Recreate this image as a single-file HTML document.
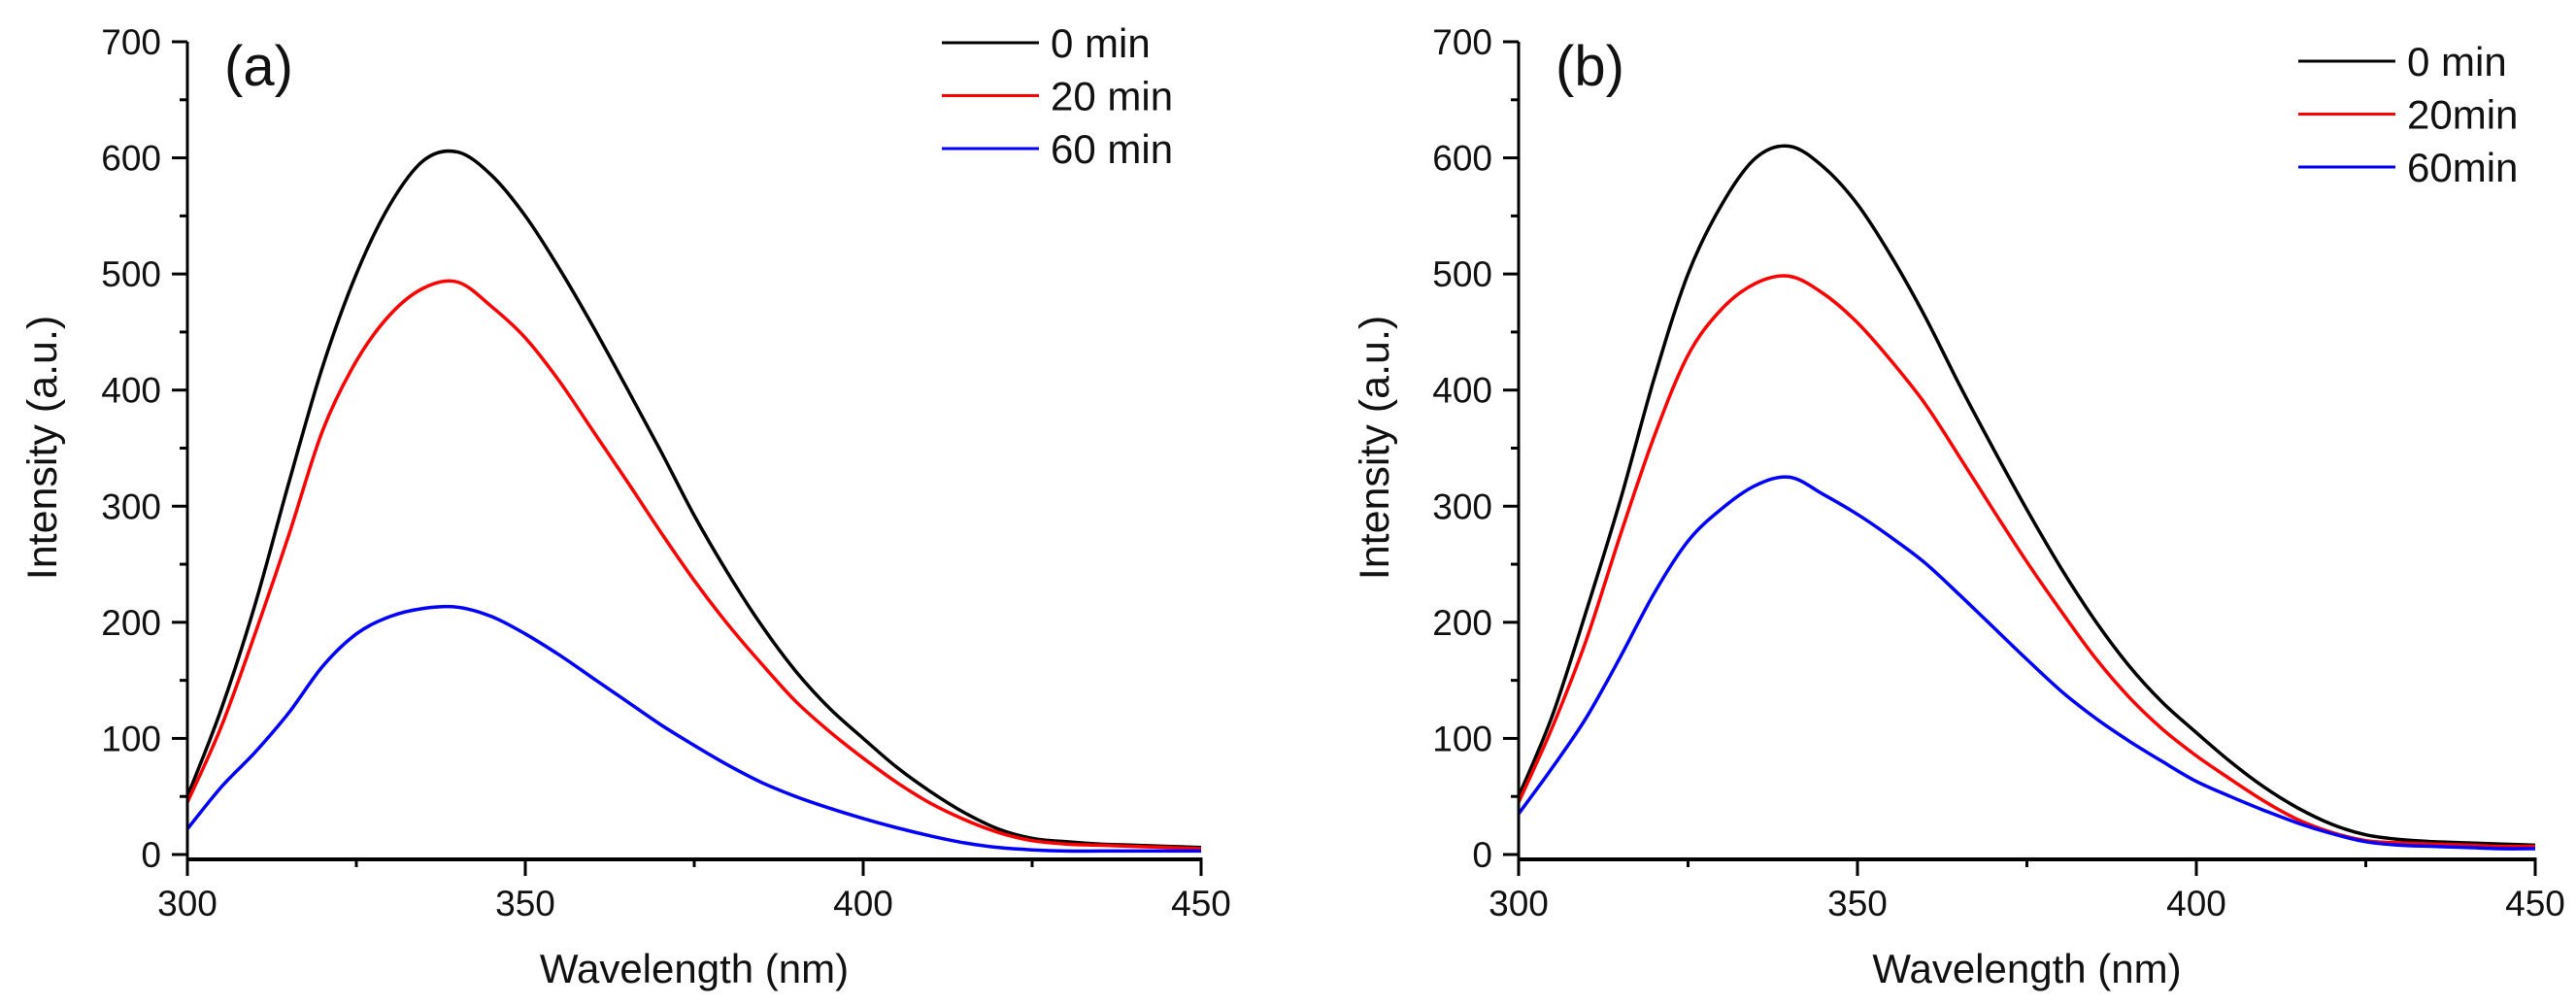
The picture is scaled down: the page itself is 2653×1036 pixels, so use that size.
<!DOCTYPE html>
<html><head><meta charset="utf-8">
<style>
html,body{margin:0;padding:0;background:#fff;}
svg{display:block;font-family:"Liberation Sans",Arial,sans-serif;}
</style></head>
<body>
<svg id="chart" width="2653" height="1036" viewBox="0 0 2653 1036" xmlns="http://www.w3.org/2000/svg"></svg>
<script>
const wavelengths = [300,305,310,315,320,325,330,335,340,345,350,355,360,365,370,375,380,385,390,395,400,405,410,415,420,425,430,435,440,445,450];
const aBlack = [50,125,215,320,420,500,560,598,605,585,550,505,455,402,348,292,242,197,158,126,100,75,54,36,22,14,11,9,8,7,6];
const aRed   = [45,110,190,275,365,425,465,488,493,472,445,408,365,322,278,236,198,164,132,106,83,62,44,30,19,12,9,8,7,6,5];
const aBlue  = [22,58,88,122,162,190,205,212,213,205,190,172,152,132,112,94,77,62,50,40,31,23,16,10,6,4,3,3,3,3,3];
const bBlack = [50,120,210,305,410,500,560,600,610,592,560,515,463,405,350,297,247,202,163,131,105,80,58,40,26,17,13,11,10,9,8];
const bRed   = [45,110,185,275,360,430,470,492,498,483,458,425,388,343,297,252,210,170,136,108,85,65,46,30,19,12,10,9,8,7,7];
const bBlue  = [35,75,118,170,225,270,298,318,325,310,293,273,251,224,196,168,141,118,98,80,63,50,38,27,18,11,8,7,6,5,5];
const yTicks = [0,100,200,300,400,500,600,700];
const xTicks = [300,350,400,450];
const legendA = ["0 min","20 min","60 min"];
const legendB = ["0 min","20min","60min"];
const colors = ["#000000","#ff0000","#0000ff"];

const NS = "http://www.w3.org/2000/svg";
const svg = document.getElementById('chart');
function mk(tag, attrs, parent){
  const e = document.createElementNS(NS, tag);
  for (const k in attrs) e.setAttribute(k, attrs[k]);
  (parent||svg).appendChild(e);
  return e;
}
function smoothPath(pts){
  let d = "M"+pts[0][0].toFixed(1)+","+pts[0][1].toFixed(1);
  for (let i=0;i<pts.length-1;i++){
    const p0=pts[Math.max(0,i-1)], p1=pts[i], p2=pts[i+1], p3=pts[Math.min(pts.length-1,i+2)];
    const c1x=p1[0]+(p2[0]-p0[0])/6, c1y=p1[1]+(p2[1]-p0[1])/6;
    const c2x=p2[0]-(p3[0]-p1[0])/6, c2y=p2[1]-(p3[1]-p1[1])/6;
    d += " C"+c1x.toFixed(1)+","+c1y.toFixed(1)+" "+c2x.toFixed(1)+","+c2y.toFixed(1)+" "+p2[0].toFixed(1)+","+p2[1].toFixed(1);
  }
  return d;
}
function panel(cfg){
  const g = mk('g',{});
  
  
  const x = v => cfg.x0 + (v-300)/150*(cfg.x1-cfg.x0);
  const y = v => 880 - v/700*(880-43);
  cfg.series.forEach((s,i)=>{
    const pts = wavelengths.map((w,j)=>[x(w), y(s[j])]);
    const p = mk('path',{d:smoothPath(pts),fill:'none',stroke:colors[i],'stroke-width':3.5,'stroke-linejoin':'round'},g);
    
    
  });
  const ya = mk('line',{x1:cfg.x0,y1:43,x2:cfg.x0,y2:886,stroke:'#000','stroke-width':3},g);
  
  
  for (let v=0; v<=700; v+=50){
    const major = v%100===0;
    mk('line',{x1:cfg.x0-(major?16:8),y1:y(v),x2:cfg.x0,y2:y(v),stroke:'#000','stroke-width':3},g);
  }
  yTicks.forEach(v=>{
    const t = mk('text',{x:cfg.x0-27,y:y(v)+13,'font-size':37,'text-anchor':'end',fill:'#111'},g);
    t.textContent = v;
    
    
  });
  const xa = mk('line',{x1:cfg.x0-1.5,y1:885,x2:cfg.x1+1.5,y2:885,stroke:'#000','stroke-width':4},g);
  
  
  for (let v=300; v<=450; v+=25){
    const major = v%50===0;
    mk('line',{x1:x(v),y1:885,x2:x(v),y2:major?902:893,stroke:'#000','stroke-width':3},g);
  }
  xTicks.forEach(v=>{
    const t = mk('text',{x:x(v),y:943,'font-size':37,'text-anchor':'middle',fill:'#111'},g);
    t.textContent = v;
    
    
  });
  const xt = mk('text',{x:(cfg.x0+cfg.x1)/2,y:1012,'font-size':42,'text-anchor':'middle',fill:'#111'},g);
  xt.textContent = 'Wavelength (nm)';
  
  
  const yt = mk('text',{x:0,y:0,'font-size':43,'text-anchor':'middle',fill:'#111',transform:'translate('+(cfg.ylx)+',461) rotate(-90)'},g);
  yt.textContent = 'Intensity (a.u.)';
  
  
  const pl = mk('text',{x:cfg.x0+38,y:88,'font-size':58,fill:'#111'},g);
  pl.textContent = cfg.label;
  
  
  cfg.legend.forEach((txt,i)=>{
    const ly = cfg.legY + i*54.5;
    const ll = mk('line',{x1:cfg.legX,y1:ly,x2:cfg.legX+100,y2:ly,stroke:colors[i],'stroke-width':3},g);
    
    
    const lt = mk('text',{x:cfg.legX+112,y:ly+15,'font-size':42,fill:'#111'},g);
    lt.textContent = txt;
    
    
  });
}
panel({name:'panel-a',label:'(a)',x0:193,x1:1237,ylx:58,legX:970,legY:44,legend:legendA,series:[aBlack,aRed,aBlue]});
panel({name:'panel-b',label:'(b)',x0:1564,x1:2611,ylx:1430,legX:2367,legY:63,legend:legendB,series:[bBlack,bRed,bBlue]});
</script>
</body></html>
